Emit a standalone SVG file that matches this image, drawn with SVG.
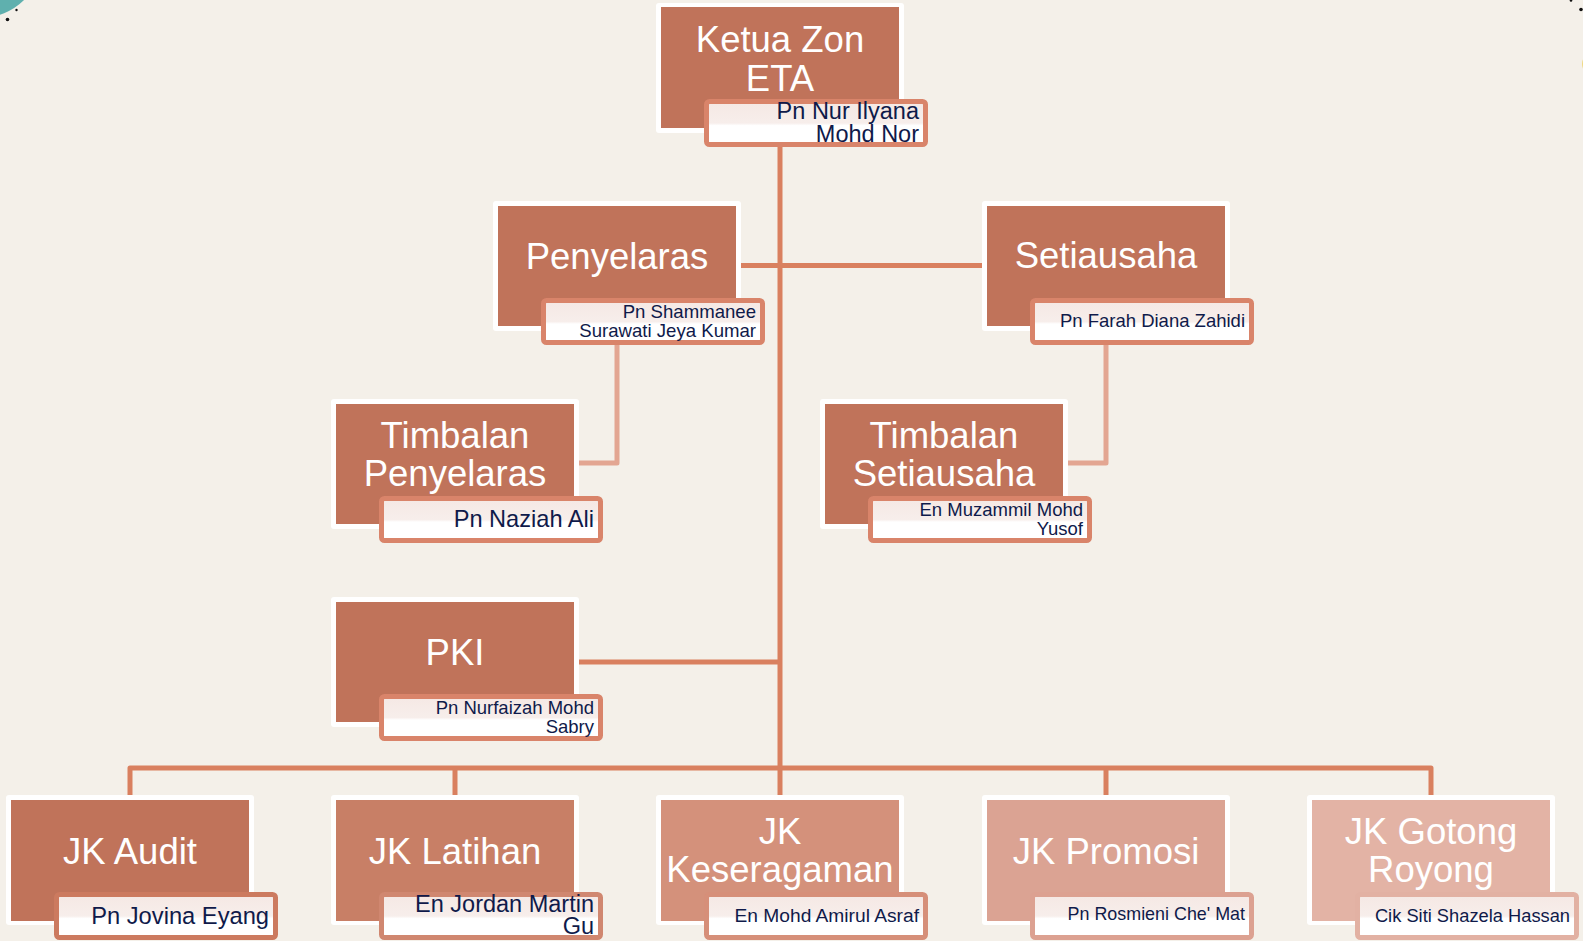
<svg xmlns="http://www.w3.org/2000/svg" width="1583" height="941" viewBox="0 0 1583 941">
<defs>
<linearGradient id="nameFill" x1="0" y1="0" x2="0" y2="1">
<stop offset="0" stop-color="#f5e8e4"/>
<stop offset="0.5" stop-color="#f7eeeb"/>
<stop offset="0.56" stop-color="#ffffff"/>
<stop offset="1" stop-color="#ffffff"/>
</linearGradient>
<style>
.frame{fill:#ffffff}
.title{font-family:"Liberation Sans",Arial,sans-serif;font-size:36.5px;fill:#ffffff;text-anchor:middle}
.name{font-family:"Liberation Sans",Arial,sans-serif;fill:#0f1a4a;text-anchor:end}
.nbox{fill:url(#nameFill);stroke-width:5}
.conn{fill:none;stroke:#d9805f;stroke-width:5;stroke-linejoin:round}
.conn2{fill:none;stroke:#e3a692;stroke-width:5;stroke-linejoin:round}
</style>
</defs>
<rect width="1583" height="941" fill="#f4f0e9"/>
<g id="decor">
<circle cx="-20" cy="-45" r="63" fill="#5fb0ae"/>
<circle cx="7.5" cy="19.5" r="1.8" fill="#111"/>
<circle cx="16.5" cy="10" r="1.2" fill="#111"/>
<circle cx="1571" cy="0.5" r="1.3" fill="#111"/>
<circle cx="1581" cy="9.5" r="1.8" fill="#111"/>
<ellipse cx="1586" cy="64" rx="4" ry="7" fill="#f0d880"/>
</g>
<g id="connectors">
<path class="conn" d="M780 128 V768"/>
<path class="conn" d="M736 265.5 H987"/>
<path class="conn" d="M574 662 H780"/>
<path class="conn" d="M130 797 V768 H1431 V797"/>
<path class="conn" d="M455 768 V797 M780 768 V797 M1106 768 V797"/>
<path class="conn2" d="M617 345 V463 H574"/>
<path class="conn2" d="M1106 345 V463 H1063"/>
</g>
<g id="ketua">
<rect class="frame" x="656" y="3" width="248" height="130" rx="3"/>
<rect x="661" y="7" width="238" height="121" fill="#c0735a"/>
<text class="title" x="780" y="51.7">Ketua Zon</text>
<text class="title" x="780" y="90.7">ETA</text>
<rect class="nbox" x="706.5" y="101.5" width="219" height="43" rx="3" stroke="#d9846a"/>
<text class="name" x="919" y="119" font-size="23.5">Pn Nur Ilyana</text>
<text class="name" x="919" y="141.7" font-size="23.5">Mohd Nor</text>
</g>
<g id="penyelaras">
<rect class="frame" x="493" y="201" width="248" height="130" rx="3"/>
<rect x="498" y="206" width="238" height="120" fill="#c0735a"/>
<text class="title" x="617" y="269">Penyelaras</text>
<rect class="nbox" x="543.5" y="300.5" width="219" height="42" rx="3" stroke="#d9846a"/>
<text class="name" x="756" y="318.3" font-size="18.6">Pn Shammanee</text>
<text class="name" x="756" y="336.7" font-size="18.6">Surawati Jeya Kumar</text>
</g>
<g id="setiausaha">
<rect class="frame" x="982" y="201" width="248" height="130" rx="3"/>
<rect x="987" y="206" width="238" height="120" fill="#c0735a"/>
<text class="title" x="1106" y="267.5">Setiausaha</text>
<rect class="nbox" x="1032.5" y="300.5" width="219" height="42" rx="3" stroke="#d9846a"/>
<text class="name" x="1245" y="327.3" font-size="18.5">Pn Farah Diana Zahidi</text>
</g>
<g id="timbalan-penyelaras">
<rect class="frame" x="331" y="399" width="248" height="130" rx="3"/>
<rect x="336" y="404" width="238" height="120" fill="#c0735a"/>
<text class="title" x="455" y="447.5">Timbalan</text>
<text class="title" x="455" y="485.5">Penyelaras</text>
<rect class="nbox" x="381.5" y="498.5" width="219" height="42" rx="3" stroke="#d9846a"/>
<text class="name" x="594" y="526.7" font-size="23.6">Pn Naziah Ali</text>
</g>
<g id="timbalan-setiausaha">
<rect class="frame" x="820" y="399" width="248" height="130" rx="3"/>
<rect x="825" y="404" width="238" height="120" fill="#c0735a"/>
<text class="title" x="944" y="447.5">Timbalan</text>
<text class="title" x="944" y="485.5">Setiausaha</text>
<rect class="nbox" x="870.5" y="498.5" width="219" height="42" rx="3" stroke="#d9846a"/>
<text class="name" x="1083" y="516" font-size="18.5">En Muzammil Mohd</text>
<text class="name" x="1083" y="535" font-size="18.5">Yusof</text>
</g>
<g id="pki">
<rect class="frame" x="331" y="597" width="248" height="130" rx="3"/>
<rect x="336" y="602" width="238" height="120" fill="#c0735a"/>
<text class="title" x="455" y="665">PKI</text>
<rect class="nbox" x="381.5" y="696.5" width="219" height="42" rx="3" stroke="#d9846a"/>
<text class="name" x="594" y="714" font-size="18.5">Pn Nurfaizah Mohd</text>
<text class="name" x="594" y="733.3" font-size="18.5">Sabry</text>
</g>
<g id="jk-audit">
<rect class="frame" x="6" y="795" width="248" height="130" rx="3"/>
<rect x="11" y="800" width="238" height="121" fill="#c0735a"/>
<text class="title" x="130" y="863.5">JK Audit</text>
<rect class="nbox" x="56.5" y="894.5" width="219" height="43" rx="3" stroke="#cc7a5f"/>
<text class="name" x="269" y="924" font-size="23.7">Pn Jovina Eyang</text>
</g>
<g id="jk-latihan">
<rect class="frame" x="331" y="795" width="248" height="130" rx="3"/>
<rect x="336" y="800" width="238" height="121" fill="#c87f66"/>
<text class="title" x="455" y="863.5">JK Latihan</text>
<rect class="nbox" x="381.5" y="894.5" width="219" height="43" rx="3" stroke="#d08770"/>
<text class="name" x="594" y="911.5" font-size="23.5">En Jordan Martin</text>
<text class="name" x="594" y="934" font-size="23.5">Gu</text>
</g>
<g id="jk-keseragaman">
<rect class="frame" x="656" y="795" width="248" height="130" rx="3"/>
<rect x="661" y="800" width="238" height="121" fill="#d4917b"/>
<text class="title" x="780" y="843.5">JK</text>
<text class="title" x="780" y="881.5">Keseragaman</text>
<rect class="nbox" x="706.5" y="894.5" width="219" height="43" rx="3" stroke="#d68f79"/>
<text class="name" x="919" y="921.7" font-size="19.2">En Mohd Amirul Asraf</text>
</g>
<g id="jk-promosi">
<rect class="frame" x="982" y="795" width="248" height="130" rx="3"/>
<rect x="987" y="800" width="238" height="121" fill="#dba393"/>
<text class="title" x="1106" y="863.5">JK Promosi</text>
<rect class="nbox" x="1032.5" y="894.5" width="219" height="43" rx="3" stroke="#dca191"/>
<text class="name" x="1245" y="920" font-size="17.9">Pn Rosmieni Che' Mat</text>
</g>
<g id="jk-gotong-royong">
<rect class="frame" x="1307" y="795" width="248" height="130" rx="3"/>
<rect x="1312" y="800" width="238" height="121" fill="#e3b3a5"/>
<text class="title" x="1431" y="843.5">JK Gotong</text>
<text class="title" x="1431" y="881.5">Royong</text>
<rect class="nbox" x="1357.5" y="894.5" width="219" height="43" rx="3" stroke="#e2b1a3"/>
<text class="name" x="1570" y="921.7" font-size="18.3">Cik Siti Shazela Hassan</text>
</g>
</svg>
